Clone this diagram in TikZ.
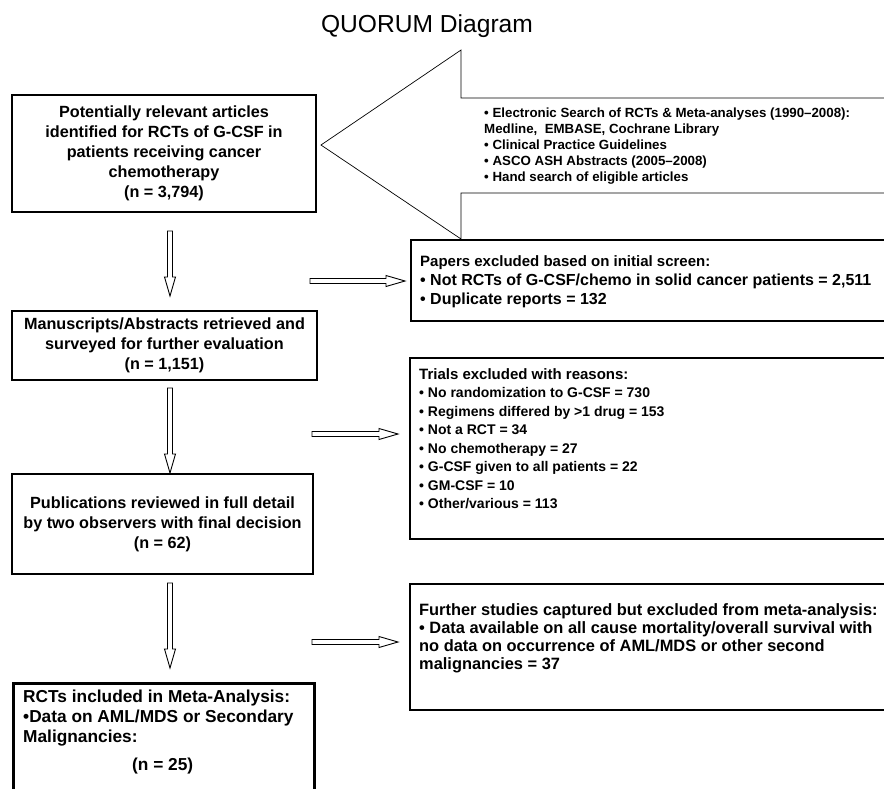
\documentclass[tikz,border=0pt]{standalone}
\usepackage{fontspec}
\setmainfont{Liberation Sans}
\usetikzlibrary{calc}

\tikzset{
  lbox/.style={draw, line width=1.6pt, align=center, inner sep=0pt,
    font=\bfseries\fontsize{16.2}{20}\selectfont},
  rbox/.style={draw, line width=1.6pt, anchor=north west, inner sep=0pt},
  rtext/.style={anchor=north west, align=left, inner sep=0pt,
    font=\bfseries\fontsize{15}{18.5}\selectfont},
  callout/.style={line width=0.7pt, line join=miter},
  arrowline/.style={line width=0.9pt, line join=miter}
}

% outlined block arrow from #1 to #2
\newcommand{\hollowarrow}[2]{%
  \coordinate (hb) at ($(#2)!19pt!(#1)$);
  \draw[arrowline] ($(#1)!2.5pt!90:(#2)$) -- ($(hb)!2.5pt!-90:(#1)$)
    -- ($(hb)!5.5pt!-90:(#1)$) -- (#2) -- ($(hb)!5.5pt!90:(#1)$)
    -- ($(hb)!2.5pt!90:(#1)$) -- ($(#1)!2.5pt!-90:(#2)$) -- cycle;}

\begin{document}
\begin{tikzpicture}[x=1pt,y=-1pt]
  \useasboundingbox (0,0) rectangle (884,788);
  \clip (0,0) rectangle (884,788);

  \node[font=\fontsize{24.6}{28}\selectfont] (title) at (427,26) {QUORUM Diagram};

  % left column
  \node[lbox, minimum width=304, minimum height=117] (ident) at (164,153.5)
    {Potentially relevant articles\\identified for RCTs of G-CSF in\\patients receiving cancer\\chemotherapy\\(n = 3,794)};
  \node[lbox, minimum width=305, minimum height=69] (retrieved) at (164.5,345.5)
    {Manuscripts/Abstracts retrieved and\\surveyed for further evaluation\\(n = 1,151)};
  \node[lbox, minimum width=301, minimum height=100] (reviewed) at (162.5,524)
    {Publications reviewed in full detail\\by two observers with final decision\\(n = 62)};
  \node[draw, line width=3.2pt, anchor=north west, minimum width=301, minimum height=140] (rcts) at (12,682) {};
  \node[rtext, font=\bfseries\fontsize{17.3}{20}\selectfont] (rctstext) at (23,690)
    {RCTs included in Meta-Analysis:\\•Data on AML/MDS or Secondary\\Malignancies:\\[8pt]\makebox[279pt]{(n = 25)}};

  % search sources callout
  \draw[callout] (900,98) -- (461,98) -- (461,50) -- (321,145) -- (461,239) -- (461,193) -- (900,193);
  \node[rtext, font=\bfseries\fontsize{13.3}{16}\selectfont] (sources) at (484,108)
    {• Electronic Search of RCTs \& Meta-analyses (1990–2008):\\Medline,~ EMBASE, Cochrane Library\\• Clinical Practice Guidelines\\• ASCO ASH Abstracts (2005–2008)\\• Hand search of eligible articles};

  % right column
  \node[rbox, minimum width=490, minimum height=81] (papers) at (410,239) {};
  \node[rtext, font=\bfseries\fontsize{15}{19}\selectfont] (paperstext) at (420,255)
    {Papers excluded based on initial screen:\\
     {\fontsize{16}{19}\selectfont • Not RCTs of G-CSF/chemo in solid cancer patients = 2,511}\\
     {\fontsize{16}{19}\selectfont • Duplicate reports = 132}};
  \node[rbox, minimum width=491, minimum height=181] (trials) at (409,357) {};
  \node[rtext] (trialstext) at (419,368)
    {Trials excluded with reasons:\\{\fontsize{14}{18.5}\selectfont • No randomization to G-CSF = 730}\\{\fontsize{14}{18.5}\selectfont • Regimens differed by >1 drug = 153}\\{\fontsize{14}{18.5}\selectfont • Not a RCT = 34}\\{\fontsize{14}{18.5}\selectfont • No chemotherapy = 27}\\{\fontsize{14}{18.5}\selectfont • G-CSF given to all patients = 22}\\{\fontsize{14}{18.5}\selectfont • GM-CSF = 10}\\{\fontsize{14}{18.5}\selectfont • Other/various = 113}};
  \node[rbox, minimum width=491, minimum height=126] (further) at (409,583) {};
  \node[rtext, font=\bfseries\fontsize{16.4}{18}\selectfont] (furthertext) at (419,603)
    {Further studies captured but excluded from meta-analysis:\\• Data available on all cause mortality/overall survival with\\no data on occurrence of AML/MDS or other second\\malignancies = 37};

  % arrows
  \coordinate (d1s) at (170,231); \coordinate (d1e) at (170,296);
  \coordinate (d2s) at (170,388); \coordinate (d2e) at (170,473);
  \coordinate (d3s) at (170,583); \coordinate (d3e) at (170,668);
  \coordinate (r1s) at (310,281); \coordinate (r1e) at (405,281);
  \coordinate (r2s) at (312,434); \coordinate (r2e) at (398,434);
  \coordinate (r3s) at (312,642); \coordinate (r3e) at (398,642);
  \hollowarrow{d1s}{d1e}
  \hollowarrow{d2s}{d2e}
  \hollowarrow{d3s}{d3e}
  \hollowarrow{r1s}{r1e}
  \hollowarrow{r2s}{r2e}
  \hollowarrow{r3s}{r3e}
\end{tikzpicture}
\end{document}
